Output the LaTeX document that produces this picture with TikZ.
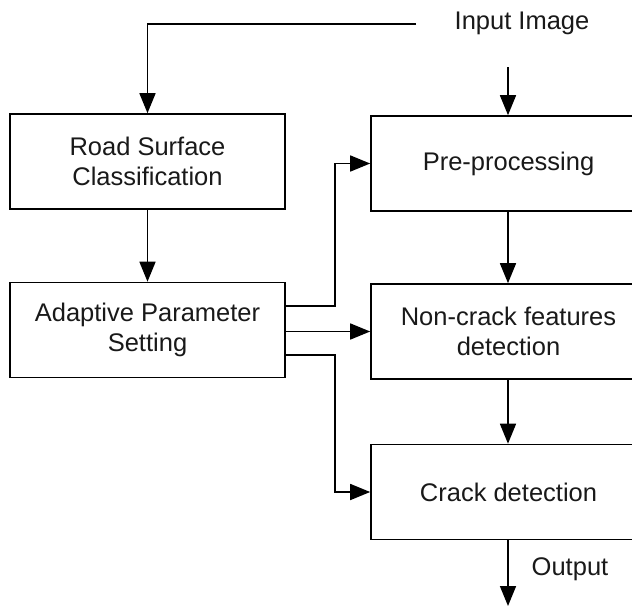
\documentclass[tikz,border=0pt]{standalone}
\usepackage{fontspec}
\setmainfont{Liberation Sans}
\usetikzlibrary{arrows.meta}
\begin{document}
\begin{tikzpicture}[x=1pt,y=-1pt,
  line width=1.6pt,
  font=\fontsize{25.5}{30}\selectfont,
  box/.style={draw, minimum width=275pt, minimum height=95pt, align=center, inner sep=0pt, text=black!90},
  arr/.style={-{Triangle[length=20pt,width=16pt]}},
  lbl/.style={inner sep=0pt, text=black!90}]
\useasboundingbox (0,0) rectangle (632,606);
\clip (0,0) rectangle (632,606);
\node[lbl] (in) at (522,23) {Input Image};
\coordinate (ina) at (416,24);
\coordinate (inb) at (508,67);
\node[box] (rsc) at (147.5,161.5) {Road Surface\\Classification};
\node[box] (aps) at (147.5,330) {Adaptive Parameter\\Setting};
\node[box] (pp) at (508.5,163.5) {Pre-processing};
\node[box] (ncf) at (508.5,331.5) {Non-crack features\\detection};
\node[box] (cd) at (508.5,492) {Crack detection};
\coordinate (outend) at (508,606);
\node[lbl] (out) at (570,569) {Output};
\draw[arr] (ina) -| (rsc.north);
\draw[arr] (inb) -- (inb |- pp.north);
\draw[arr] (rsc) -- (aps);
\draw[arr] (pp.south -| inb) -- (ncf.north -| inb);
\draw[arr] (ncf.south -| inb) -- (cd.north -| inb);
\draw[arr] (cd.south -| inb) -- (outend);
\draw[arr] ([yshift=24pt]aps.east) -- (335,306) |- (pp.west);
\draw[arr] (aps.east |- ncf.west) -- (ncf.west);
\draw[arr] ([yshift=-25pt]aps.east) -- (335,355) |- (cd.west);
\end{tikzpicture}
\end{document}
